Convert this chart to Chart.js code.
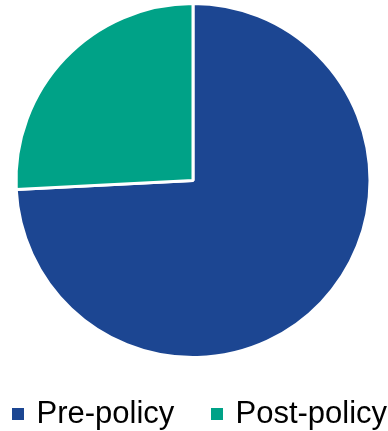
<!DOCTYPE html>
<html>
<head>
<meta charset="utf-8">
<title>Pre-policy vs Post-policy</title>
<script src="https://cdn.jsdelivr.net/npm/chart.js@4/dist/chart.umd.min.js"></script>
<style>
  html, body { margin: 0; padding: 0; background: #fff; }
  #wrap { position: relative; width: 388px; height: 431px; overflow: hidden; }
  #pieBox { position: absolute; left: 0; top: 0; width: 388px; height: 360px; }
  #legend { position: absolute; left: 0; top: 0; width: 388px; height: 431px; pointer-events: none;
            font-family: Arial, "Liberation Sans", sans-serif; font-size: 31px; color: #000; }
  .item { position: absolute; top: 397px; line-height: 31px; white-space: nowrap; }
  .item .sw { position: absolute; left: 0; top: 11px; width: 12px; height: 12px; }
  .item .tx { position: absolute; left: 24.5px; top: 0; }
</style>
</head>
<body>
<div id="wrap">
  <div id="pieBox"><canvas id="pie"></canvas></div>
  <div id="legend"></div>
</div>
<script>
// Share of cases before / after the policy change (%).
var LABELS = ['Pre-policy', 'Post-policy'];
var SHARES = [74.2, 25.8];
var COLORS = ['#1c4692', '#00a287'];
// Legend item left edges.
var LEGEND_X = [12, 211];

new Chart(document.getElementById('pie'), {
  type: 'pie',
  data: {
    labels: LABELS,
    datasets: [{
      data: SHARES,
      backgroundColor: COLORS,
      borderColor: '#ffffff',
      borderWidth: 3,
      hoverOffset: 0
    }]
  },
  options: {
    responsive: true, maintainAspectRatio: false, animation: false,
    layout: { padding: { top: 2, bottom: 1, left: 0, right: 2 } },
    plugins: { legend: { display: false }, tooltip: { enabled: false } }
  }
});

// Legend below the pie, built from the same labels/colours.
var lg = document.getElementById('legend');
LABELS.forEach(function (name, i) {
  var it = document.createElement('div');
  it.className = 'item';
  it.style.left = LEGEND_X[i] + 'px';
  it.innerHTML = '<span class="sw" style="background:' + COLORS[i] + '"></span><span class="tx">' + name + '</span>';
  lg.appendChild(it);
});
</script>
</body>
</html>
